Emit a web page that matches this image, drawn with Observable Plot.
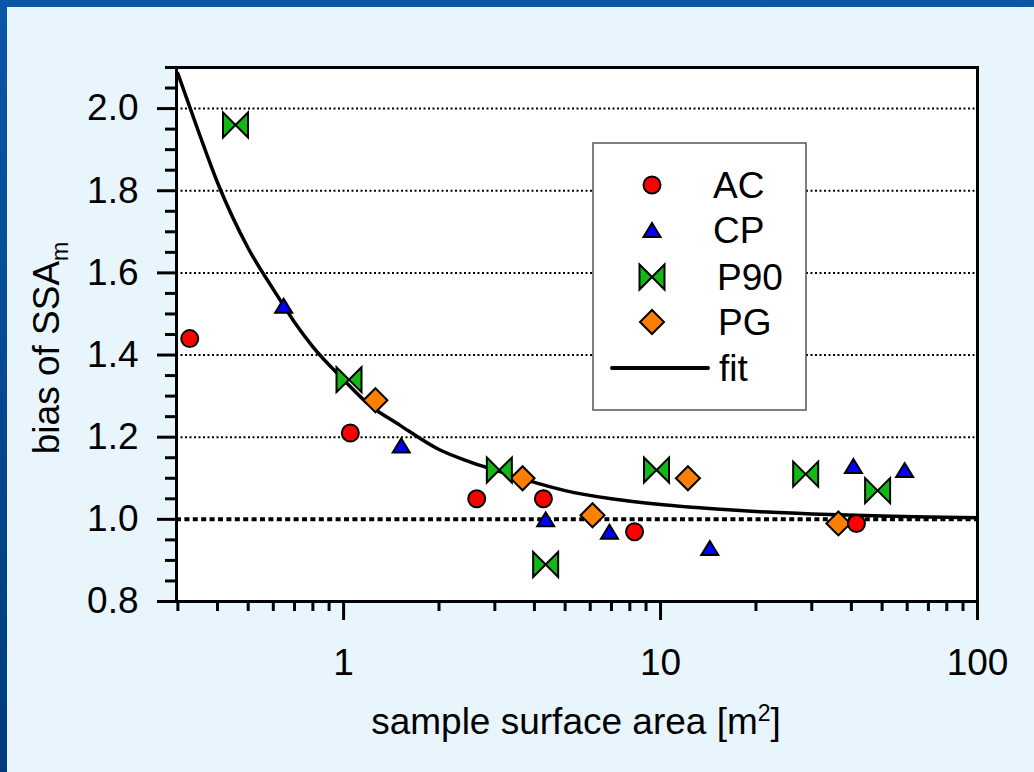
<!DOCTYPE html>
<html><head><meta charset="utf-8">
<script src="https://cdn.jsdelivr.net/npm/d3@7"></script>
<script src="https://cdn.jsdelivr.net/npm/@observablehq/plot@0.6"></script>
<style>
html,body{margin:0;padding:0;}
#wrap{position:relative;width:1034px;height:772px;background:linear-gradient(to bottom,#0b56a6,#003c7a);overflow:hidden;}
#inner{position:absolute;left:7px;top:7px;right:0;bottom:0;background:#e9f5fd;}
#chart{position:absolute;left:0;top:0;}
</style></head><body>
<div id="wrap"><div id="inner"></div><div id="chart"></div></div>
<script>
// ---- data ----
const acX = [0.327, 1.05, 2.63, 4.27, 8.28, 41.5];
const acY = [1.44, 1.21, 1.05, 1.05, 0.97, 0.99];
const cpX = [0.647, 1.52, 4.34, 6.9, 14.3, 40.6, 58.9];
const cpY = [1.52, 1.18, 1.00, 0.97, 0.93, 1.13, 1.12];
const p90X = [0.456, 1.04, 3.1, 4.34, 9.71, 28.7, 48.4];
const p90Y = [1.96, 1.34, 1.12, 0.89, 1.12, 1.11, 1.07];
const pgX = [1.26, 3.67, 6.1, 12.2, 36.4];
const pgY = [1.29, 1.10, 1.01, 1.10, 0.99];
const fitX = [0.3, 0.35, 0.4, 0.5, 0.6, 0.7, 0.8, 1, 1.2, 1.5, 2, 2.5, 3, 4, 5, 7, 10, 15, 20, 30, 50, 70, 100];
const fitY = [2.085, 1.94, 1.82, 1.66, 1.56, 1.48, 1.42, 1.34, 1.28, 1.23, 1.17, 1.14, 1.12, 1.09, 1.07, 1.05, 1.036, 1.025, 1.019, 1.013, 1.008, 1.006, 1.004];
const seriesNames = ["AC", "CP", "P90", "PG"];
const xMajor = [1, 10, 100];
const xMinor = [0.3, 0.4, 0.5, 0.6, 0.7, 0.8, 0.9, 2, 3, 4, 5, 6, 7, 8, 9, 20, 30, 40, 50, 60, 70, 80, 90];
const yMajor = [0.8, 1.0, 1.2, 1.4, 1.6, 1.8, 2.0];
const yMinor = [0.85, 0.9, 0.95, 1.05, 1.1, 1.15, 1.25, 1.3, 1.35, 1.45, 1.5, 1.55, 1.65, 1.7, 1.75, 1.85, 1.9, 1.95, 2.05, 2.1];
const yGrid = [1.2, 1.4, 1.6, 1.8, 2.0];
const xLabelText = "sample surface area [m";
const yLabelText = "bias of SSA";

// ---- tables ----
const pts = (xs, ys) => xs.map((x, i) => ({x, y: ys[i]}));
const ac = pts(acX, acY), cp = pts(cpX, cpY), p90 = pts(p90X, p90Y), pg = pts(pgX, pgY);
const fit = pts(fitX, fitY);

// ---- symbols ----
const symCircle = {draw(c) { c.moveTo(8.5, 0); c.arc(0, 0, 8.5, 0, 2 * Math.PI); c.closePath(); }};
const symTri = {draw(c) { c.moveTo(0, -7); c.lineTo(8.5, 7); c.lineTo(-8.5, 7); c.closePath(); }};
const symBow = {draw(c) { c.moveTo(-12.5, -12.5); c.lineTo(12.5, 12.5); c.lineTo(12.5, -12.5); c.lineTo(-12.5, 12.5); c.closePath(); }};
const symDia = {draw(c) { c.moveTo(0, -12); c.lineTo(12, 0); c.lineTo(0, 12); c.lineTo(-12, 0); c.closePath(); }};
const colors = {AC: "#ff0000", CP: "#0000ff", P90: "#14b814", PG: "#ff8000"};
const syms = {AC: symCircle, CP: symTri, P90: symBow, PG: symDia};
const FONT = "'Liberation Sans', Arial, Helvetica, sans-serif";
const FS = 37;

const dotOpts = (name) => ({x: "x", y: "y", symbol: syms[name], fill: colors[name], stroke: "black", strokeWidth: 2});

const svg = Plot.plot({
  width: 1034, height: 772,
  marginLeft: 176, marginRight: 57, marginTop: 67, marginBottom: 171,
  x: {type: "log", domain: [0.297, 100], label: null},
  y: {domain: [0.8, 2.1], label: null},
  style: {background: "transparent", fontFamily: FONT, fontSize: FS + "px", color: "black", overflow: "visible"},
  marks: [
    Plot.frame({fill: "white", stroke: null}),
    Plot.ruleY(yGrid, {strokeWidth: 2, strokeDasharray: "2,2.5"}),
    Plot.ruleY([1], {strokeWidth: 4, strokeDasharray: "5,3.4"}),
    Plot.axisX({ticks: xMinor, tickSize: 10, tickFormat: () => "", strokeWidth: 3, label: null}),
    Plot.axisX({ticks: xMajor, tickSize: 19, tickPadding: 28, tickFormat: d => String(d), strokeWidth: 3, label: null, fill: "black"}),
    Plot.axisY({ticks: yMinor, tickSize: 11, tickFormat: () => "", strokeWidth: 3, label: null}),
    Plot.axisY({ticks: yMajor, tickSize: 19, tickPadding: 19, tickFormat: d3.format(".1f"), strokeWidth: 3, label: null, fill: "black"}),
    Plot.line(fit, {x: "x", y: "y", curve: "monotone-x", strokeWidth: 3.5, stroke: "black"}),
    Plot.dot(pg, dotOpts("PG")),
    Plot.dot(p90, dotOpts("P90")),
    Plot.dot(cp, dotOpts("CP")),
    Plot.dot(ac, dotOpts("AC")),
    Plot.frame({stroke: "black", strokeWidth: 3})
  ]
});
document.getElementById("chart").appendChild(svg);

const s = d3.select(svg);
// legend
const lg = s.append("g").attr("text-anchor", "start");
lg.append("rect").attr("x", 593).attr("y", 143).attr("width", 213).attr("height", 267)
  .attr("fill", "white").attr("stroke", "#555").attr("stroke-width", 1.5);
const rowsY = [185, 230, 277, 322];
const textX = [713, 713, 717, 718];
seriesNames.forEach((name, i) => {
  lg.append("path").attr("d", d3.symbol(syms[name])()).attr("transform", `translate(652,${rowsY[i]})`)
    .attr("fill", colors[name]).attr("stroke", "black").attr("stroke-width", 2);
  lg.append("text").attr("x", textX[i]).attr("y", rowsY[i]).attr("dy", "0.36em").attr("text-anchor", "start")
    .attr("font-family", FONT).attr("font-size", FS).attr("fill", "black").text(name);
});
lg.append("line").attr("x1", 612).attr("x2", 708).attr("y1", 368).attr("y2", 368)
  .attr("stroke", "black").attr("stroke-width", 4).attr("stroke-linecap", "round");
lg.append("text").attr("x", 719).attr("y", 368).attr("dy", "0.36em").attr("text-anchor", "start")
  .attr("font-family", FONT).attr("font-size", FS).attr("fill", "black").text("fit");

// axis titles
const xt = s.append("text").attr("x", 576).attr("y", 734).attr("text-anchor", "middle")
  .attr("font-family", FONT).attr("font-size", FS).attr("fill", "black");
xt.append("tspan").text(xLabelText);
xt.append("tspan").attr("dy", -13).attr("font-size", 23).text("2");
xt.append("tspan").attr("dy", 13).text("]");

const yt = s.append("text").attr("transform", "translate(59,348) rotate(-90)").attr("text-anchor", "middle")
  .attr("font-family", FONT).attr("font-size", FS).attr("fill", "black");
yt.append("tspan").text(yLabelText);
yt.append("tspan").attr("dy", 9).attr("font-size", 23).text("m");
</script>
</body></html>
